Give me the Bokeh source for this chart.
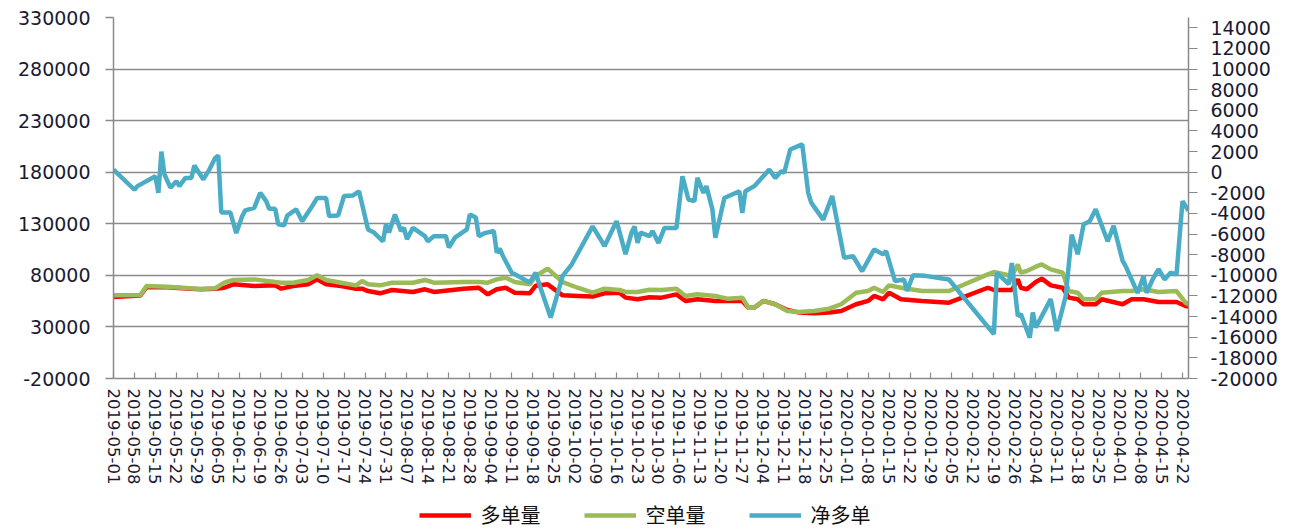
from datetime import datetime
import pandas as pd
from bokeh.plotting import figure
from bokeh.layouts import column
from bokeh.models import (Range1d, LinearAxis, FixedTicker, DatetimeTickFormatter,
                          PrintfTickFormatter, Legend, LegendItem, ColumnDataSource)
from bokeh.embed import file_html
from bokeh.resources import INLINE

# ---------------- data ----------------
tick_labels = ["2019-05-01", "2019-05-08", "2019-05-15", "2019-05-22", "2019-05-29",
               "2019-06-05", "2019-06-12", "2019-06-19", "2019-06-26", "2019-07-03",
               "2019-07-10", "2019-07-17", "2019-07-24", "2019-07-31", "2019-08-07",
               "2019-08-14", "2019-08-21", "2019-08-28", "2019-09-04", "2019-09-11",
               "2019-09-18", "2019-09-25", "2019-10-02", "2019-10-09", "2019-10-16",
               "2019-10-23", "2019-10-30", "2019-11-06", "2019-11-13", "2019-11-20",
               "2019-11-27", "2019-12-04", "2019-12-11", "2019-12-18", "2019-12-25",
               "2020-01-01", "2020-01-08", "2020-01-15", "2020-01-22", "2020-01-29",
               "2020-02-05", "2020-02-12", "2020-02-19", "2020-02-26", "2020-03-04",
               "2020-03-11", "2020-03-18", "2020-03-25", "2020-04-01", "2020-04-08",
               "2020-04-15", "2020-04-22"]

pos_dates = ["2019-05-01", "2019-05-10", "2019-05-12", "2019-05-19", "2019-05-24",
             "2019-05-30", "2019-06-04", "2019-06-07", "2019-06-10", "2019-06-17",
             "2019-06-24", "2019-06-26", "2019-06-30", "2019-07-05", "2019-07-08",
             "2019-07-11", "2019-07-16", "2019-07-21", "2019-07-23", "2019-07-25",
             "2019-07-29", "2019-08-02", "2019-08-09", "2019-08-13", "2019-08-16",
             "2019-08-26", "2019-08-31", "2019-09-03", "2019-09-06", "2019-09-09",
             "2019-09-12", "2019-09-17", "2019-09-19", "2019-09-23", "2019-09-28",
             "2019-10-03", "2019-10-08", "2019-10-12", "2019-10-17", "2019-10-19",
             "2019-10-23", "2019-10-27", "2019-10-31", "2019-11-05", "2019-11-08",
             "2019-11-12", "2019-11-18", "2019-11-22", "2019-11-27", "2019-11-29",
             "2019-12-01", "2019-12-04", "2019-12-08", "2019-12-12", "2019-12-16",
             "2019-12-21", "2019-12-26", "2019-12-30", "2020-01-04", "2020-01-08",
             "2020-01-10", "2020-01-13", "2020-01-15", "2020-01-19", "2020-01-26",
             "2020-02-04", "2020-02-17", "2020-02-19", "2020-02-25", "2020-02-27",
             "2020-02-28", "2020-03-01", "2020-03-04", "2020-03-06", "2020-03-09",
             "2020-03-13", "2020-03-15", "2020-03-18", "2020-03-20", "2020-03-24",
             "2020-03-26", "2020-04-02", "2020-04-05", "2020-04-09", "2020-04-14",
             "2020-04-20", "2020-04-23", "2020-04-24"]

long_values = [59000, 60500, 68500, 68500, 67500, 66500, 67000, 68000, 71300, 69700,
               70300, 67100, 69700, 71300, 76100, 71300, 69700, 67100, 67100, 64800,
               62600, 65800, 63900, 66500, 63900, 67100, 68000, 61600, 66500, 68000,
               63200, 62600, 70000, 71300, 60600, 60000, 59400, 62600, 63200, 58400,
               56800, 58800, 58400, 61600, 55200, 56800, 55200, 55200, 55200, 48700,
               48700, 55200, 52000, 46500, 43900, 43200, 43900, 45500, 52000, 55200,
               60000, 56800, 63200, 56800, 55200, 53500, 68000, 65800, 65800, 76100,
               68000, 66500, 73500, 76800, 70300, 68000, 58400, 56800, 52000, 52000,
               56800, 52000, 56800, 56800, 54200, 54200, 50300, 49700]

short_values = [60600, 61000, 69700, 69000, 68000, 66800, 67500, 72900, 75500, 76100,
                73500, 72900, 72900, 75500, 80000, 75500, 72900, 70300, 74500, 71300,
                70300, 72900, 72900, 75500, 72900, 73500, 73500, 72900, 76100, 77700,
                73500, 71300, 79400, 86400, 73500, 68000, 63200, 67100, 65800, 63900,
                63900, 66000, 65800, 67100, 60000, 61600, 60000, 57400, 58400, 48700,
                48700, 55200, 52000, 45500, 44500, 45500, 47700, 52000, 63200, 64800,
                68000, 63900, 70300, 68000, 64800, 64800, 81000, 83200, 79400, 90600,
                82600, 84200, 88400, 90600, 85800, 82600, 64800, 63200, 56800, 56800,
                63200, 64800, 64800, 66500, 63900, 64800, 53500, 52000]

net_dates = ["2019-05-01", "2019-05-08", "2019-05-09", "2019-05-15", "2019-05-16",
             "2019-05-17", "2019-05-18", "2019-05-20", "2019-05-22", "2019-05-23",
             "2019-05-25", "2019-05-27", "2019-05-28", "2019-05-31", "2019-06-02",
             "2019-06-04", "2019-06-05", "2019-06-06", "2019-06-09", "2019-06-11",
             "2019-06-13", "2019-06-14", "2019-06-17", "2019-06-19", "2019-06-21",
             "2019-06-22", "2019-06-24", "2019-06-25", "2019-06-27", "2019-06-28",
             "2019-07-01", "2019-07-03", "2019-07-06", "2019-07-08", "2019-07-11",
             "2019-07-12", "2019-07-15", "2019-07-17", "2019-07-20", "2019-07-22",
             "2019-07-25", "2019-07-27", "2019-07-30", "2019-07-31", "2019-08-01",
             "2019-08-03", "2019-08-05", "2019-08-06", "2019-08-07", "2019-08-09",
             "2019-08-13", "2019-08-14", "2019-08-16", "2019-08-20", "2019-08-21",
             "2019-08-23", "2019-08-27", "2019-08-28", "2019-08-30", "2019-08-31",
             "2019-09-02", "2019-09-05", "2019-09-06", "2019-09-07", "2019-09-08",
             "2019-09-11", "2019-09-13", "2019-09-17", "2019-09-19", "2019-09-20",
             "2019-09-24", "2019-09-28", "2019-10-01", "2019-10-08", "2019-10-12",
             "2019-10-16", "2019-10-19", "2019-10-21", "2019-10-22", "2019-10-23",
             "2019-10-24", "2019-10-27", "2019-10-28", "2019-10-30", "2019-11-01",
             "2019-11-05", "2019-11-07", "2019-11-09", "2019-11-11", "2019-11-12",
             "2019-11-14", "2019-11-15", "2019-11-17", "2019-11-18", "2019-11-21",
             "2019-11-26", "2019-11-27", "2019-11-28", "2019-12-01", "2019-12-03",
             "2019-12-06", "2019-12-08", "2019-12-10", "2019-12-11", "2019-12-13",
             "2019-12-17", "2019-12-19", "2019-12-20", "2019-12-24", "2019-12-27",
             "2019-12-31", "2020-01-03", "2020-01-06", "2020-01-10", "2020-01-13",
             "2020-01-14", "2020-01-17", "2020-01-20", "2020-01-21", "2020-01-23",
             "2020-01-27", "2020-02-04", "2020-02-19", "2020-02-20", "2020-02-24",
             "2020-02-25", "2020-02-27", "2020-02-28", "2020-03-02", "2020-03-03",
             "2020-03-04", "2020-03-06", "2020-03-09", "2020-03-11", "2020-03-14",
             "2020-03-16", "2020-03-18", "2020-03-20", "2020-03-22", "2020-03-24",
             "2020-03-28", "2020-03-30", "2020-04-02", "2020-04-03", "2020-04-07",
             "2020-04-09", "2020-04-10", "2020-04-12", "2020-04-14", "2020-04-16",
             "2020-04-18", "2020-04-20", "2020-04-22", "2020-04-24"]

net_values = [250, -1700, -1350, -400, -2000, 2000, -200, -1500, -870, -1350,
              -550, -550, 650, -700, 250, 1400, 1600, -3900, -3900, -5900,
              -4250, -3700, -3450, -2000, -2800, -3550, -3550, -5050, -5150, -4200,
              -3600, -4750, -3450, -2500, -2500, -4250, -4200, -2300, -2250, -1850,
              -5550, -5850, -6700, -5050, -5850, -4100, -5700, -5400, -6500, -5400,
              -6200, -6700, -6200, -6200, -7300, -6350, -5550, -4100, -4400, -6200,
              -5900, -5700, -7800, -7400, -8100, -9750, -10050, -10700, -9750, -10700,
              -14100, -10050, -8950, -5250, -7150, -4750, -7950, -5850, -5250, -6850,
              -5850, -6200, -5700, -6850, -5400, -5400, -400, -2650, -2800, -550,
              -2000, -1350, -3600, -6350, -2500, -1850, -3950, -1850, -1350, -700,
              250, -550, 100, -50, 2200, 2700, -2000, -2950, -4600, -2300,
              -8300, -8150, -9600, -7500, -7950, -7650, -10550, -10400, -11500, -10000,
              -10050, -10400, -15700, -9750, -10850, -8800, -13950, -13750, -16050, -13600,
              -15050, -13950, -12300, -15400, -12000, -6050, -7950, -5050, -4750, -3600,
              -6700, -5200, -8600, -9100, -11700, -10050, -11700, -10400, -9400, -10400,
              -9750, -9900, -2800, -3750]

series_names = ["多单量", "空单量", "净多单"]
series_colors = ["#FF0000", "#9BBB59", "#4BACC6"]

# ---------------- main figure ----------------
W = 1297
H_MAIN, H_LEG = 487, 42
p = figure(width=W, height=H_MAIN, output_backend="svg", toolbar_location=None,
           x_axis_type="datetime",
           x_range=Range1d(datetime(2019, 5, 1), datetime(2020, 4, 24)),
           y_range=Range1d(-20000, 330000),
           min_border_left=113, min_border_right=109, min_border_top=17,
           min_border_bottom=109)
p.extra_y_ranges = {"net": Range1d(-20000, 15000)}
p.outline_line_color = None
p.background_fill_color = "white"
p.border_fill_color = "white"

grid_col = "#8A8A8A"
lab_col = "#1a1a33"

# x axis
xa = p.xaxis[0]
xa.ticker = FixedTicker(ticks=[pd.Timestamp(t).value // 10**6 for t in tick_labels])
fmt = "%Y-%m-%d"
xa.formatter = DatetimeTickFormatter(milliseconds=fmt, seconds=fmt, minsec=fmt, minutes=fmt,
                                     hourmin=fmt, hours=fmt, days=fmt, months=fmt, years=fmt)
xa.major_label_orientation = "vertical"
xa.major_label_text_font = "DejaVu Sans"
xa.major_label_text_font_size = "16.5px"
xa.major_label_text_color = lab_col
xa.major_label_standoff = 10
xa.major_tick_in = 6
xa.major_tick_out = 0
xa.minor_tick_in = 0
xa.minor_tick_out = 0
xa.axis_line_color = grid_col
xa.axis_line_width = 1.5
xa.major_tick_line_color = grid_col
xa.major_tick_line_width = 1.2

# left axis
ya = p.yaxis[0]
ya.ticker = FixedTicker(ticks=list(range(-20000, 330001, 50000)))
ya.formatter = PrintfTickFormatter(format="%d")
ya.major_label_text_font = "DejaVu Sans"
ya.major_label_text_font_size = "19px"
ya.major_label_text_color = lab_col
ya.major_label_standoff = 15
ya.major_tick_out = 8
ya.major_tick_in = 0
ya.minor_tick_out = 0
ya.minor_tick_in = 0
ya.axis_line_color = grid_col
ya.axis_line_width = 1.5
ya.major_tick_line_color = grid_col
ya.major_tick_line_width = 1.5

# right axis
ra = LinearAxis(y_range_name="net",
                ticker=FixedTicker(ticks=list(range(-20000, 14001, 2000))),
                formatter=PrintfTickFormatter(format="%d"))
ra.major_label_text_font = "DejaVu Sans"
ra.major_label_text_font_size = "19px"
ra.major_label_text_color = lab_col
ra.major_label_standoff = 13
ra.major_tick_out = 9
ra.major_tick_in = 0
ra.minor_tick_out = 0
ra.minor_tick_in = 0
ra.axis_line_color = grid_col
ra.axis_line_width = 1.5
ra.major_tick_line_color = grid_col
ra.major_tick_line_width = 1.2
p.add_layout(ra, "right")

p.xgrid.grid_line_color = None
p.ygrid.grid_line_color = grid_col
p.ygrid.grid_line_width = 1.5

# lines
pos_src = ColumnDataSource(dict(x=pd.to_datetime(pos_dates), long=long_values, short=short_values))
net_src = ColumnDataSource(dict(x=pd.to_datetime(net_dates), net=net_values))
p.line("x", "long", source=pos_src, line_color=series_colors[0], line_width=4.5)
p.line("x", "short", source=pos_src, line_color=series_colors[1], line_width=4.5)
p.line("x", "net", source=net_src, y_range_name="net",
       line_color=series_colors[2], line_width=4.5)

# ---------------- legend strip ----------------
# the series are drawn here again only to carry the legend swatches; the
# strip's ranges keep every point off-screen
lg = figure(width=W, height=H_LEG, output_backend="svg", toolbar_location=None,
            x_range=Range1d(0, 1), y_range=Range1d(0, 1),
            x_axis_location=None, y_axis_location=None,
            min_border=0, min_border_left=113, min_border_right=109,
            min_border_top=0, min_border_bottom=0)
lg.outline_line_color = None
lg.xgrid.visible = False
lg.ygrid.visible = False
leg_renderers = [
    lg.line("x", "long", source=pos_src, line_color=series_colors[0], line_width=4.5),
    lg.line("x", "short", source=pos_src, line_color=series_colors[1], line_width=4.5),
    lg.line("x", "net", source=net_src, line_color=series_colors[2], line_width=4.5),
]
legend = Legend(items=[LegendItem(label=n, renderers=[r])
                       for n, r in zip(series_names, leg_renderers)],
                location="bottom_center", orientation="horizontal",
                glyph_width=52, glyph_height=18, label_standoff=10,
                label_width=72, spacing=31, padding=0, margin=0,
                label_text_font="Noto Sans CJK SC", label_text_font_size="20px",
                label_text_color="#111111", label_height=18,
                background_fill_alpha=0, border_line_color=None)
lg.add_layout(legend)

layout = column(p, lg, spacing=0)
open("out.html", "w").write(file_html(layout, INLINE))
